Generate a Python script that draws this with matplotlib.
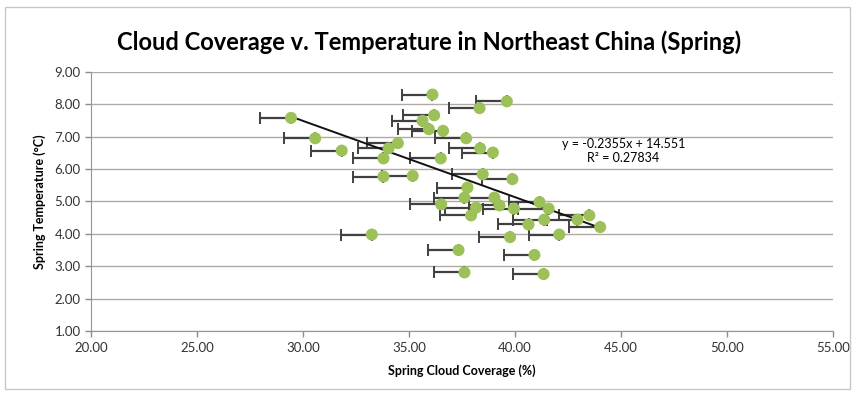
import matplotlib.pyplot as plt
from matplotlib.patches import Rectangle

plt.rcParams['font.family'] = ['Lato', 'DejaVu Sans']

# spring cloud coverage (%) and spring temperature (C) per station
cloud = [36.10, 39.61, 38.32, 29.43, 36.18, 35.63, 35.93, 36.60, 30.57, 37.69,
         34.47, 34.03, 38.35, 31.82, 38.95, 33.79, 36.49, 33.79, 35.17, 38.47,
         39.87, 37.75, 37.61, 39.02, 39.26, 41.15, 41.58, 39.94, 38.16, 37.92,
         36.51, 43.50, 42.94, 41.37, 40.63, 44.01, 42.08, 39.76, 33.24, 37.33,
         40.91, 37.61, 41.34]
temp = [8.30, 8.09, 7.88, 7.58, 7.66, 7.49, 7.23, 7.18, 6.95, 6.95,
        6.80, 6.64, 6.64, 6.57, 6.51, 6.33, 6.33, 5.77, 5.79, 5.84,
        5.69, 5.43, 5.12, 5.12, 4.88, 4.98, 4.78, 4.78, 4.81, 4.57,
        4.91, 4.57, 4.44, 4.44, 4.29, 4.21, 3.98, 3.90, 3.98, 3.50,
        3.35, 2.81, 2.76]
cloud_err = 1.45  # minus-only error on cloud coverage

slope = -0.2355
intercept = 14.551
r2 = 0.27834

fig = plt.figure(figsize=(8.59, 3.97), dpi=100)
ax = fig.add_axes([0.106, 0.166, 0.864, 0.653])

fig.patches.append(Rectangle((0.006, 0.02), 0.984, 0.962, transform=fig.transFigure,
                             fill=False, edgecolor='#c8c8c8', linewidth=1))

ax.errorbar(cloud, temp, xerr=[[cloud_err] * len(cloud), [0] * len(cloud)],
            fmt='none', ecolor='#404040', elinewidth=1.6, capsize=4, capthick=1.4, zorder=2)
ax.scatter(cloud, temp, s=75, color='#9cc158', edgecolors='none', zorder=4)

x0, x1 = min(cloud), max(cloud)
ax.plot([x0, x1], [slope * x0 + intercept, slope * x1 + intercept],
        color='#111111', linewidth=1.4, zorder=3)

ax.text(45.1, 6.55, f"y = {slope}x + {intercept}\nR² = {r2}", ha='center', va='center',
        fontsize=9, linespacing=1.25)

ax.set_xlim(20, 55)
ax.set_ylim(1, 9)
ax.set_xticks([20, 25, 30, 35, 40, 45, 50, 55])
ax.set_yticks([1, 2, 3, 4, 5, 6, 7, 8, 9])
ax.xaxis.set_major_formatter(lambda v, p: f"{v:.2f}")
ax.yaxis.set_major_formatter(lambda v, p: f"{v:.2f}")
ax.tick_params(labelsize=9.5, colors='#8c8c8c', labelcolor='#333333', length=4, width=1)
ax.grid(axis='y', color='#b0aaa6', linewidth=1)
ax.set_axisbelow(True)
for s in ['top', 'right']:
    ax.spines[s].set_visible(False)
for s in ['left', 'bottom']:
    ax.spines[s].set_color('#9a9490')

ax.set_xlabel("Spring Cloud Coverage (%)", fontsize=9, fontweight='bold', labelpad=8)
ax.set_ylabel("Spring Temperature (°C)", fontsize=9, fontweight='bold', labelpad=6)
fig.suptitle("Cloud Coverage v. Temperature in Northeast China (Spring)", fontsize=17,
             fontweight='bold', x=0.5, y=0.894, va='center')

fig.savefig("out.png", dpi=100)
